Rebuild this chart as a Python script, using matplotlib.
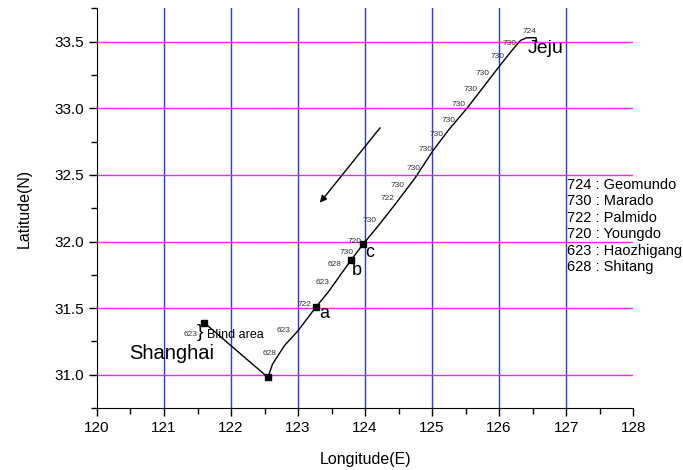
import matplotlib
matplotlib.use("Agg")
import matplotlib.pyplot as plt
from matplotlib.ticker import MultipleLocator

plt.rcParams['font.family'] = ['Liberation Sans', 'DejaVu Sans']

# ship track (lon, lat)
track_lon = [121.60, 122.55, 122.62, 122.80, 123.00, 123.27, 123.45, 123.62, 123.79,
             123.97, 124.20, 124.45, 124.75, 125.01, 125.25, 125.52, 125.75, 126.01,
             126.20, 126.32, 126.41, 126.55, 126.56]
track_lat = [31.39, 30.98, 31.08, 31.22, 31.33, 31.51, 31.62, 31.74, 31.86,
             31.98, 32.12, 32.28, 32.48, 32.68, 32.84, 33.00, 33.15, 33.32,
             33.44, 33.51, 33.53, 33.53, 33.50]

mark_lon = [121.60, 122.55, 123.27, 123.79, 123.97]
mark_lat = [31.39, 30.98, 31.51, 31.86, 31.98]

# station ids along the track
st_txt = ['724', '730', '730', '730', '730', '730', '730', '730', '730', '730',
          '730', '722', '730', '720', '730', '628', '623', '722', '623', '628', '623']
st_lon = [126.46, 126.16, 125.97, 125.75, 125.58, 125.40, 125.24, 125.07, 124.91, 124.72,
          124.48, 124.33, 124.06, 123.84, 123.73, 123.54, 123.36, 123.09, 122.79, 122.57, 121.39]
st_lat = [33.58, 33.49, 33.39, 33.26, 33.14, 33.03, 32.91, 32.80, 32.69, 32.55,
          32.42, 32.32, 32.16, 32.00, 31.92, 31.83, 31.69, 31.53, 31.33, 31.16, 31.30]

legend_lines = ['724 : Geomundo', '730 : Marado', '722 : Palmido',
                '720 : Youngdo', '623 : Haozhigang', '628 : Shitang']

fig = plt.figure(figsize=(6.83, 4.70), dpi=100)
ax = fig.add_axes([0.142, 0.132, 0.785, 0.850])

for x in range(121, 128):
    ax.plot([x, x], [30.75, 33.75], color='#3333ff', lw=1.0, zorder=1)
for y in [31.0, 31.5, 32.0, 32.5, 33.0, 33.5]:
    ax.plot([120, 128], [y, y], color='#ff22ff', lw=1.0, zorder=1)

ax.plot(track_lon, track_lat, color='black', lw=1.0, zorder=3)
ax.plot(mark_lon, mark_lat, 's', color='black', ms=5, zorder=4)

for t, x, y in zip(st_txt, st_lon, st_lat):
    ax.text(x, y, t, fontsize=6, color='#333333', ha='center', va='center', zorder=5)

ax.annotate('', xy=(123.30, 32.275), xytext=(124.25, 32.87),
            arrowprops=dict(arrowstyle='-|>', color='black', lw=1.0,
                            mutation_scale=10))

ax.text(126.69, 33.45, 'Jeju', fontsize=14, ha='center', va='center')
ax.text(121.12, 31.16, 'Shanghai', fontsize=14.5, ha='center', va='center')
ax.text(121.64, 31.30, 'Blind area', fontsize=9, ha='left', va='center')
ax.text(121.53, 31.315, '}', fontsize=14, ha='center', va='center', fontweight='light')
ax.text(123.39, 31.46, 'a', fontsize=13, ha='center', va='center')
ax.text(123.88, 31.78, 'b', fontsize=13, ha='center', va='center')
ax.text(124.07, 31.92, 'c', fontsize=13, ha='center', va='center')

for i, s in enumerate(legend_lines):
    ax.text(127.01, 32.425 - i * 0.124, s, fontsize=10.5, ha='left', va='center')

ax.set_xlim(120, 128)
ax.set_ylim(30.75, 33.75)
ax.xaxis.set_major_locator(MultipleLocator(1))
ax.xaxis.set_minor_locator(MultipleLocator(0.5))
ax.yaxis.set_major_locator(MultipleLocator(0.5))
ax.yaxis.set_minor_locator(MultipleLocator(0.25))
ax.yaxis.set_major_formatter(plt.FormatStrFormatter('%.1f'))
ax.tick_params(which='major', direction='out', length=6, width=1, labelsize=11)
ax.tick_params(which='minor', direction='out', length=4, width=1)
ax.spines['top'].set_visible(False)
ax.spines['right'].set_visible(False)
ax.set_xlabel('Longitude(E)', fontsize=11.5, labelpad=12)
ax.set_ylabel('Latitude(N)', fontsize=11.5, labelpad=16)

fig.savefig('out.png', dpi=100)
